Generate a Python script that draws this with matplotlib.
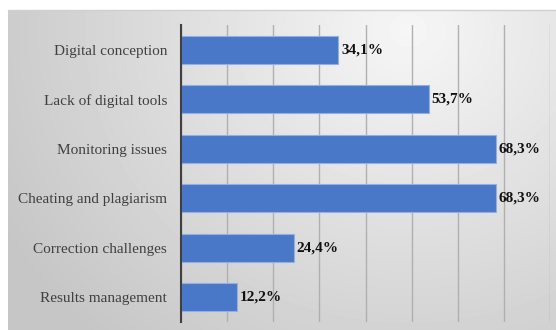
import numpy as np
import matplotlib.pyplot as plt

categories = ["Digital conception", "Lack of digital tools", "Monitoring issues",
              "Cheating and plagiarism", "Correction challenges", "Results management"]
values = [34.1, 53.7, 68.3, 68.3, 24.4, 12.2]
value_labels = ["34,1%", "53,7%", "68,3%", "68,3%", "24,4%", "12,2%"]

plt.rcParams['font.family'] = ['Liberation Serif', 'DejaVu Serif']

W, H = 556, 330
fig = plt.figure(figsize=(W / 100, H / 100), dpi=100)
fig.patch.set_facecolor('white')

# gradient panel behind the chart
bg = fig.add_axes([8 / W, 0, 1 - 8 / W, 1 - 10 / H], zorder=0)
yy, xx = np.mgrid[0:320, 0:548]
d = np.sqrt(((xx - 400) / 420) ** 2 + ((yy - 20) / 380) ** 2)
shade = np.clip(246 - 44 * d, 198, 246) / 255
bg.imshow(shade, cmap='gray', vmin=0, vmax=1, aspect='auto', interpolation='bilinear')
bg.set_xticks([])
bg.set_yticks([])
for side in ['left', 'bottom', 'right']:
    bg.spines[side].set_visible(False)
bg.spines['top'].set_color('#d0d0d0')
bg.spines['top'].set_linewidth(1.0)

ax = fig.add_axes([181 / W, 8 / H, (550 - 181) / W, (322 - 25) / H], zorder=1)
ax.patch.set_alpha(0)

ypos = np.arange(len(categories))
ax.barh(ypos, values, height=0.57, color='#4a78c8', edgecolor='#8fb0e0', linewidth=0.8, zorder=3)
for y, v, lab in zip(ypos, values, value_labels):
    ax.text(v + 0.6, y, lab, va='center', ha='left', fontsize=11, fontweight='bold', color='#111111')

ax.set_ylim(len(categories) - 0.5, -0.5)
ax.set_xlim(0, 80)
ax.set_yticks(ypos)
ax.set_yticklabels(categories, fontsize=11, color='#404040')
ax.tick_params(axis='y', length=0, pad=10)
ax.set_xticks(np.arange(0, 81, 10))
ax.tick_params(axis='x', length=0, labelbottom=False)
ax.grid(axis='x', color='#b0b0b0', linewidth=1.0, zorder=0)
for side in ['top', 'right', 'bottom']:
    ax.spines[side].set_visible(False)
ax.spines['left'].set_color('#404040')
ax.spines['left'].set_linewidth(1.5)
ax.spines['left'].set_zorder(4)

fig.savefig('out.png', dpi=100)
